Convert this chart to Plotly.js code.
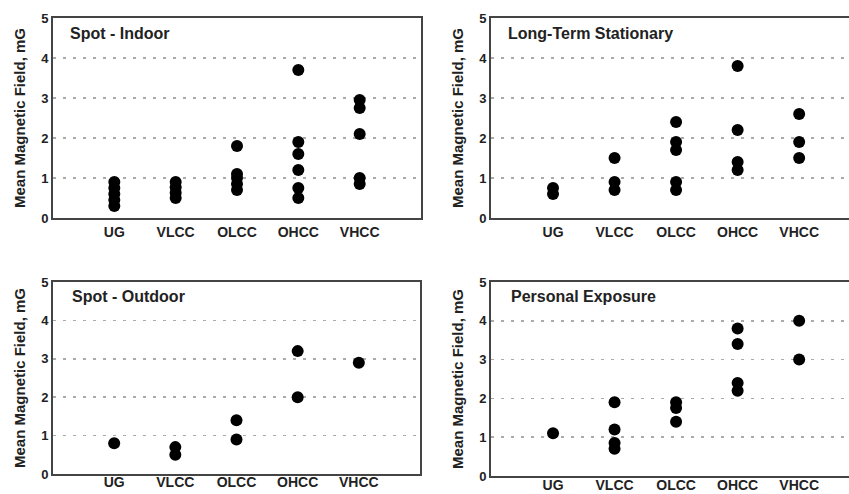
<!DOCTYPE html>
<html>
<head>
<meta charset="utf-8">
<script src="https://cdn.plot.ly/plotly-3.0.1.min.js"></script>
<style>html,body{margin:0;padding:0;background:#fff;}#chart{width:849px;height:494px;}</style>
</head>
<body>
<div id="chart"></div>
<script>
// Categories (x axis)
const categories = ['UG', 'VLCC', 'OLCC', 'OHCC', 'VHCC'];
const yTicks = [0, 1, 2, 3, 4, 5];

// Mean magnetic field (mG) by category, one inner list per category
const spotIndoor = [
  [0.3, 0.45, 0.6, 0.75, 0.9],
  [0.5, 0.63, 0.77, 0.9],
  [0.7, 0.85, 1.0, 1.1, 1.8],
  [0.5, 0.75, 1.2, 1.6, 1.9, 3.7],
  [0.85, 1.0, 2.1, 2.75, 2.95]
];
const longTermStationary = [
  [0.6, 0.75],
  [0.7, 0.9, 1.5],
  [0.7, 0.9, 1.7, 1.9, 2.4],
  [1.2, 1.4, 2.2, 3.8],
  [1.5, 1.9, 2.6]
];
const spotOutdoor = [
  [0.8],
  [0.5, 0.7],
  [0.9, 1.4],
  [2.0, 3.2],
  [2.9]
];
const personalExposure = [
  [1.1],
  [0.7, 0.85, 1.2, 1.9],
  [1.4, 1.75, 1.9],
  [2.2, 2.4, 3.4, 3.8],
  [3.0, 4.0]
];

const panelTitles = ['Spot - Indoor', 'Long-Term Stationary', 'Spot - Outdoor', 'Personal Exposure'];
const panelData = [spotIndoor, longTermStationary, spotOutdoor, personalExposure];
const yTitle = 'Mean Magnetic Field, mG';

const W = 849, H = 494;
const FONT = 'Liberation Sans, Arial, sans-serif';
// panel boxes in pixels: [left, right, top, bottom]
const boxes = [
  [53, 421, 18, 218],
  [491, 849, 18, 218],
  [53, 420, 282, 474],
  [491, 849, 282, 476]
];
const xRanges = [[-1, 5], [-1.008, 4.81], [-1, 5], [-1.008, 4.81]];
const titlePos = [[68, 34], [506, 34], [70, 296], [509, 296]];
const labelShift = [0, 0, -6, -5];

const traces = [];
const layout = {
  width: W, height: H,
  margin: {l: 0, r: 0, t: 0, b: 0},
  paper_bgcolor: '#fff', plot_bgcolor: '#fff',
  showlegend: false,
  font: {family: FONT, color: '#222'},
  annotations: []
};

panelData.forEach((data, i) => {
  const xs = [], ys = [];
  data.forEach((vals, c) => vals.forEach(v => { xs.push(categories[c]); ys.push(v); }));
  const n = i === 0 ? '' : String(i + 1);
  traces.push({
    type: 'scatter', mode: 'markers',
    x: xs, y: ys,
    xaxis: 'x' + n, yaxis: 'y' + n,
    marker: {color: '#000', size: 12},
    hoverinfo: 'skip'
  });
  const b = boxes[i];
  const isRight = (i % 2) === 1;
  layout['xaxis' + n] = {
    domain: [b[0] / W, b[1] / W],
    anchor: 'y' + n,
    type: 'category',
    categoryorder: 'array', categoryarray: categories,
    range: xRanges[i],
    showgrid: false, zeroline: false,
    showline: true, linecolor: '#444', linewidth: 2, mirror: true,
    ticks: '',
    ticklabelstandoff: labelShift[i],
    tickfont: {family: FONT, size: 14, color: '#222', weight: 'bold'},
    fixedrange: true
  };
  layout['yaxis' + n] = {
    domain: [1 - b[3] / H, 1 - b[2] / H],
    anchor: 'x' + n,
    range: [0, 5],
    tickvals: yTicks,
    showgrid: true, gridcolor: '#aaa', gridwidth: 1.5, griddash: '3px,7px',
    zeroline: false,
    showline: true, linecolor: '#444', linewidth: 2, mirror: !isRight,
    ticks: '',
    tickfont: {family: FONT, size: 13, color: '#222', weight: 'bold'},
    title: {text: yTitle, font: {family: FONT, size: 15, color: '#222', weight: 'bold'}, standoff: 12},
    fixedrange: true
  };
  layout.annotations.push({
    xref: 'paper', yref: 'paper',
    x: titlePos[i][0] / W, y: 1 - titlePos[i][1] / H,
    xanchor: 'left', yanchor: 'middle',
    text: panelTitles[i], showarrow: false,
    font: {family: FONT, size: 16, color: '#222', weight: 'bold'}
  });
});

Plotly.newPlot('chart', traces, layout, {displayModeBar: false, staticPlot: true});
</script>
</body>
</html>
